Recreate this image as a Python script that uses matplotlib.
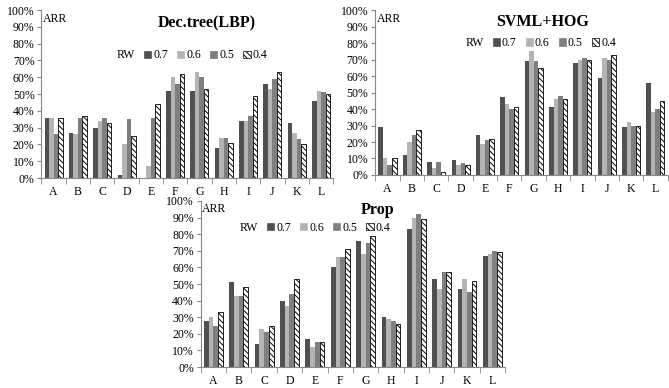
import matplotlib
matplotlib.use('Agg')
import matplotlib.pyplot as plt
import numpy as np
from matplotlib.patches import Patch
from matplotlib.ticker import FuncFormatter

plt.rcParams['font.family'] = ['Liberation Serif']
plt.rcParams['hatch.linewidth'] = 0.7

# --- Data (ARR in %) ---
categories = ['A', 'B', 'C', 'D', 'E', 'F', 'G', 'H', 'I', 'J', 'K', 'L']
rw_labels = ['0.7', '0.6', '0.5', '0.4']

dectree_07 = [36, 27, 30, 2, 0, 52, 52, 18, 34, 56, 33, 46]
dectree_06 = [36, 26, 34, 20, 7, 60, 63, 24, 34, 53, 27, 52]
dectree_05 = [26, 36, 36, 35, 36, 56, 60, 24, 37, 59, 23, 51]
dectree_04 = [36, 37, 33, 25, 44, 62, 53, 21, 49, 63, 20, 50]

svml_07 = [29, 12, 8, 9, 24, 47, 69, 41, 68, 59, 29, 56]
svml_06 = [10, 20, 4, 6, 19, 43, 75, 46, 70, 71, 32, 38]
svml_05 = [6, 24, 8, 7, 21, 40, 69, 48, 71, 70, 30, 40]
svml_04 = [10, 27, 2, 6, 22, 41, 65, 46, 70, 73, 30, 45]

prop_07 = [28, 51, 14, 40, 17, 60, 76, 30, 83, 53, 47, 67]
prop_06 = [30, 43, 23, 37, 12, 66, 68, 29, 90, 47, 53, 68]
prop_05 = [25, 43, 21, 44, 15, 66, 75, 28, 92, 57, 45, 70]
prop_04 = [33, 48, 25, 53, 15, 71, 79, 26, 89, 57, 52, 69]

# --- Styles ---
face_colors = ['#505050', '#b4b4b4', '#7f7f7f', 'white']
hatches = [None, None, None, '\\\\\\\\\\\\']
bar_w = 0.185

fig = plt.figure(figsize=(6.69, 3.88), dpi=100)


def draw_panel(rect, series, title, title_xy, legend_xy):
    ax = fig.add_axes(rect)
    x = np.arange(len(categories))
    for k, vals in enumerate(series):
        off = (k - 1.5) * bar_w
        ax.bar(x + off, vals, bar_w, color=face_colors[k], hatch=hatches[k],
               edgecolor='black' if k == 3 else face_colors[k], linewidth=0.6 if k == 3 else 0)
    ax.set_xlim(-0.5, len(categories) - 0.5)
    ax.set_ylim(0, 100)
    ax.set_yticks(np.arange(0, 101, 10))
    ax.yaxis.set_major_formatter(FuncFormatter(lambda v, p: f'{int(v)}%'))
    ax.set_xticks(x)
    ax.set_xticklabels(categories)
    ax.set_xticks(np.arange(-0.5, len(categories), 1), minor=True)
    ax.tick_params(axis='x', which='major', length=0, labelsize=8.5, pad=6)
    ax.tick_params(axis='x', which='minor', length=4, color='#888888')
    ax.tick_params(axis='y', length=3, color='#888888', labelsize=8.5, pad=2)
    for s in ['top', 'right']:
        ax.spines[s].set_visible(False)
    for s in ['left', 'bottom']:
        ax.spines[s].set_color('#888888')
        ax.spines[s].set_linewidth(0.8)
    ax.text(0.005, 0.985, 'ARR', transform=ax.transAxes, fontsize=8.5, va='top', ha='left')
    ax.text(title_xy[0], title_xy[1], title, transform=ax.transAxes, fontsize=11.5,
            fontweight='bold', ha='center', va='center')
    handles = [Patch(facecolor=face_colors[k], hatch=hatches[k],
                     edgecolor='black' if k == 3 else face_colors[k], linewidth=0.5)
               for k in range(4)]
    handles = [Patch(alpha=0)] + handles
    labels = ['RW'] + rw_labels
    ax.legend(handles, labels, ncol=5, frameon=False, fontsize=8.5,
              loc='center', bbox_to_anchor=legend_xy,
              handlelength=0.6, handleheight=0.6, handletextpad=0.15,
              columnspacing=0.8, borderaxespad=0)
    return ax


draw_panel([0.062, 0.541, 0.436, 0.433],
           [dectree_07, dectree_06, dectree_05, dectree_04],
           'Dec.tree(LBP)', (0.568, 0.92), (0.50, 0.73))
draw_panel([0.561, 0.549, 0.437, 0.425],
           [svml_07, svml_06, svml_05, svml_04],
           'SVML+HOG', (0.571, 0.925), (0.55, 0.80))
draw_panel([0.300, 0.054, 0.455, 0.428],
           [prop_07, prop_06, prop_05, prop_04],
           'Prop', (0.58, 0.945), (0.36, 0.84))

fig.savefig('out.png', dpi=100)
